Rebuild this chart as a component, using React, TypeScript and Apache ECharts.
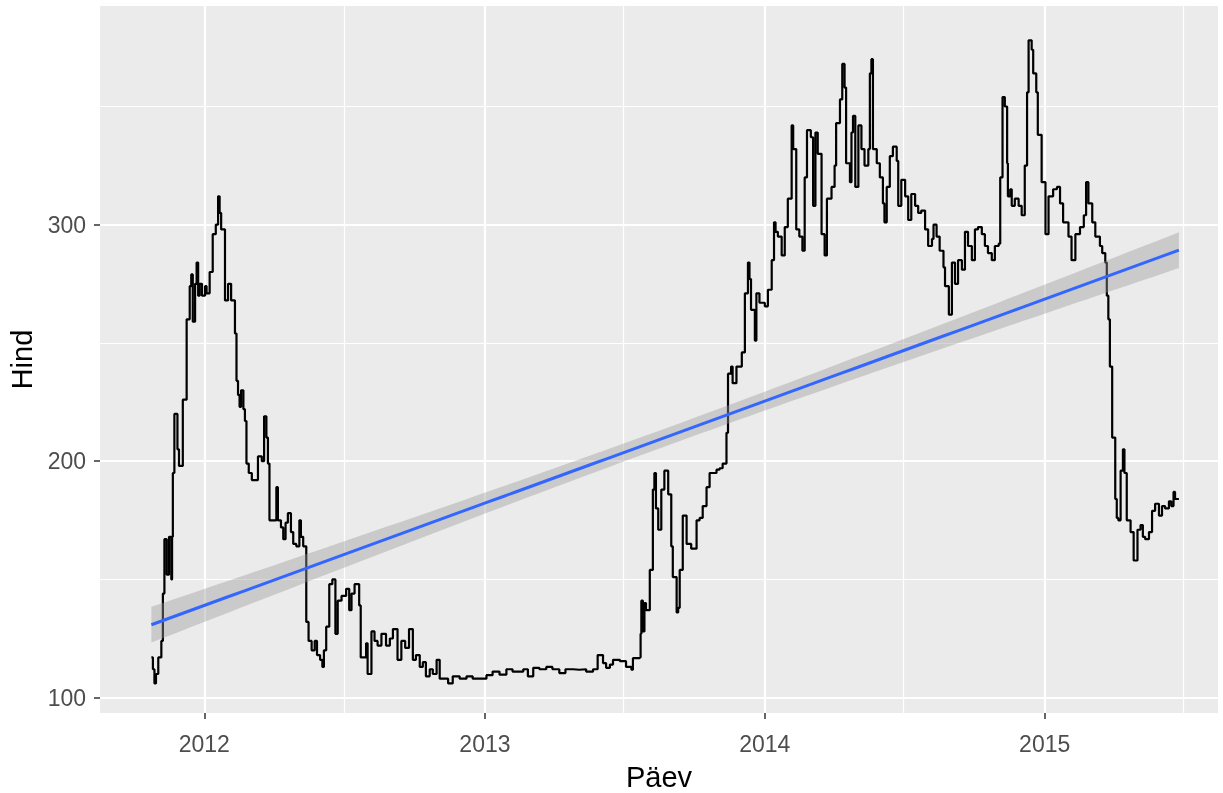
import { useEffect, useRef } from 'react';
import * as echarts from 'echarts';

const dates: string[] = [
  '2011-10-24','2011-10-26','2011-10-28','2011-10-30','2011-11-02','2011-11-06','2011-11-08','2011-11-10','2011-11-13','2011-11-16',
  '2011-11-19','2011-11-20','2011-11-21','2011-11-23','2011-11-27','2011-11-29','2011-12-04','2011-12-09','2011-12-13','2011-12-15',
  '2011-12-17','2011-12-20','2011-12-22','2011-12-24','2011-12-26','2011-12-29','2012-01-02','2012-01-04','2012-01-08','2012-01-12',
  '2012-01-16','2012-01-19','2012-01-21','2012-01-23','2012-01-28','2012-02-01','2012-02-05','2012-02-10','2012-02-12','2012-02-14',
  '2012-02-16','2012-02-18','2012-02-21','2012-02-23','2012-02-25','2012-02-28','2012-03-03','2012-03-09','2012-03-11','2012-03-16',
  '2012-03-19','2012-03-22','2012-03-24','2012-03-26','2012-03-31','2012-04-04','2012-04-06','2012-04-10','2012-04-13','2012-04-16',
  '2012-04-19','2012-04-23','2012-04-26','2012-04-30','2012-05-04','2012-05-06','2012-05-09','2012-05-13','2012-05-16','2012-05-20',
  '2012-05-24','2012-05-27','2012-05-31','2012-06-03','2012-06-05','2012-06-08','2012-06-12','2012-06-16','2012-06-20','2012-06-23',
  '2012-06-28','2012-07-04','2012-07-08','2012-07-11','2012-07-15','2012-07-21','2012-07-23','2012-07-30','2012-08-01','2012-08-06',
  '2012-08-10','2012-08-14','2012-08-19','2012-08-25','2012-08-30','2012-09-03','2012-09-09','2012-09-14','2012-09-19','2012-09-24',
  '2012-09-29','2012-10-03','2012-10-08','2012-10-12','2012-10-16','2012-10-21','2012-10-25','2012-10-30','2012-11-03','2012-11-08',
  '2012-11-14','2012-11-20','2012-11-29','2012-12-08','2012-12-16','2012-12-25','2013-01-03','2013-01-11','2013-01-20','2013-01-29',
  '2013-02-06','2013-02-15','2013-02-20','2013-02-26','2013-03-05','2013-03-13','2013-03-22','2013-03-30','2013-04-08','2013-04-16',
  '2013-04-26','2013-05-04','2013-05-13','2013-05-22','2013-05-25','2013-05-28','2013-06-04','2013-06-08','2013-06-13','2013-06-17',
  '2013-06-26','2013-07-04','2013-07-11','2013-07-13','2013-07-22','2013-07-23','2013-07-24','2013-07-26','2013-07-28','2013-07-30',
  '2013-08-04','2013-08-08','2013-08-10','2013-08-12','2013-08-15','2013-08-19','2013-08-23','2013-08-28','2013-09-01','2013-09-03',
  '2013-09-08','2013-09-10','2013-09-12','2013-09-16','2013-09-21','2013-09-27','2013-10-04','2013-10-08','2013-10-12','2013-10-17',
  '2013-10-21','2013-10-30','2013-11-03','2013-11-07','2013-11-12','2013-11-14','2013-11-18','2013-11-20','2013-11-25','2013-12-02',
  '2013-12-06','2013-12-10','2013-12-12','2013-12-14','2013-12-19','2013-12-21','2013-12-25','2014-01-01','2014-01-05','2014-01-10',
  '2014-01-13','2014-01-15','2014-01-18','2014-01-23','2014-01-27','2014-01-31','2014-02-05','2014-02-07','2014-02-11','2014-02-15',
  '2014-02-19','2014-02-22','2014-02-25','2014-03-02','2014-03-05','2014-03-08','2014-03-11','2014-03-16','2014-03-20','2014-03-23',
  '2014-03-29','2014-04-02','2014-04-04','2014-04-09','2014-04-12','2014-04-15','2014-04-17','2014-04-22','2014-04-24','2014-04-26',
  '2014-04-29','2014-05-03','2014-05-07','2014-05-11','2014-05-16','2014-05-18','2014-05-20','2014-05-22','2014-05-27','2014-05-31',
  '2014-06-04','2014-06-06','2014-06-09','2014-06-13','2014-06-17','2014-06-22','2014-06-24','2014-06-28','2014-07-03','2014-07-07',
  '2014-07-11','2014-07-16','2014-07-20','2014-07-24','2014-07-29','2014-08-02','2014-08-07','2014-08-09','2014-08-13','2014-08-17',
  '2014-08-22','2014-08-24','2014-08-29','2014-09-02','2014-09-06','2014-09-10','2014-09-15','2014-09-19','2014-09-23','2014-09-28',
  '2014-10-02','2014-10-06','2014-10-11','2014-10-15','2014-10-19','2014-10-24','2014-10-28','2014-11-02','2014-11-04','2014-11-07',
  '2014-11-10','2014-11-13','2014-11-14','2014-11-17','2014-11-19','2014-11-23','2014-11-28','2014-12-02','2014-12-06','2014-12-09',
  '2014-12-11','2014-12-15','2014-12-17','2014-12-21','2014-12-23','2014-12-28','2015-01-02','2015-01-06','2015-01-12','2015-01-17',
  '2015-01-21','2015-01-25','2015-02-01','2015-02-05','2015-02-10','2015-02-16','2015-02-21','2015-02-24','2015-02-27','2015-03-04',
  '2015-03-08','2015-03-14','2015-03-17','2015-03-21','2015-03-23','2015-03-25','2015-03-27','2015-03-30','2015-04-03','2015-04-05',
  '2015-04-07','2015-04-10','2015-04-13','2015-04-15','2015-04-18','2015-04-23','2015-04-27','2015-05-02','2015-05-06','2015-05-09',
  '2015-05-12','2015-05-17','2015-05-21','2015-05-25','2015-05-30','2015-06-03','2015-06-07','2015-06-12','2015-06-15','2015-06-18',
  '2015-06-20','2015-06-25'
];

const prices: number[] = [
  117,112,106,110,117,124,144,167,152,168,
  150,168,195,220,205,198,226,260,274,279,
  259,275,284,270,275,270,274,271,280,296,
  300,312,305,298,268,275,268,254,234,228,
  223,230,222,217,199,195,192,192,202,200,
  219,210,199,175,175,189,175,172,167,174,
  178,170,165,164,175,168,164,132,124,120,
  124,118,116,113,120,130,148,150,127,141,
  143,146,137,144,148,139,117,123,110,128,
  124,122,127,122,125,129,116,124,121,129,
  116,118,113,115,109,112,110,116,108,108,
  106,109,108,109,108,108,109.5,111,109.7,112,
  111,111,112,109,112.6,112,113,112,110.4,112,
  111.8,112,111,112,112,118,114.6,112.6,114,116,
  115.4,113,111.8,116.7,117,127,141,128,140,137,
  154,188,195,180,171,188,196,186,164,151,
  136,138,154,177,165,163,175,176,181,189,
  195,196.4,197,199,212,237,240,233,240,246,
  271,284,277,264,251,271,267,265.5,272.5,285,
  301,297,295,287,299,311,342,332,298,295,
  289,320,340,337,308,339,330,296,287,311,
  316,325,343,353,368,358,326,318,339,346,
  316,342,332,325,332,364,370,332,326,320,
  309,301,316,329,333,327,308,319,312,302,
  313,308,305,306,298,291,294,300,295,289,
  282,274,262,284,275,285,281,297,291,285,
  298,299,296,291,288,285,291,292,320,354,
  350,326,312,315,308,311,308,304,325,356,
  378,374,364,356,338,318,296,312,315,316,
  309,301,295,285,296,299,304,318,309,301,
  295,291,288,284,270,260,240,210,184,176,
  175,196,205,195,175,170,158,171,173,168,
  167,170,179,182,177,181,180,183,181,187,
  184,184
];

const yBreaks = [100, 200, 300];
const yMinorBreaks = [150, 250, 350];
const xBreaks = ['2012-01-01', '2013-01-01', '2014-01-01', '2015-01-01'];
const xMinorBreaks = ['2012-07-01', '2013-07-01', '2014-07-01', '2015-07-01'];
const xLimits = ['2011-08-18', '2015-08-15'];
const yLimits = [93.5, 392.5];
const xTitle = 'Päev';
const yTitle = 'Hind';

const DAY = 86400000;
const toTs = (d: string) => new Date(d + 'T00:00:00Z').getTime();

function fitLinear() {
  const ts = dates.map(toTs);
  const xs: number[] = [];
  const ys: number[] = [];
  let j = 0;
  for (let t = ts[0]; t <= ts[ts.length - 1]; t += DAY) {
    while (j + 1 < ts.length && ts[j + 1] <= t) j++;
    xs.push((t - ts[0]) / DAY);
    ys.push(prices[j]);
  }
  const n = xs.length;
  const mx = xs.reduce((a, b) => a + b, 0) / n;
  const my = ys.reduce((a, b) => a + b, 0) / n;
  let sxx = 0;
  let sxy = 0;
  for (let i = 0; i < n; i++) {
    sxx += (xs[i] - mx) ** 2;
    sxy += (xs[i] - mx) * (ys[i] - my);
  }
  const b = sxy / sxx;
  const a = my - b * mx;
  let sse = 0;
  for (let i = 0; i < n; i++) sse += (ys[i] - a - b * xs[i]) ** 2;
  const s = Math.sqrt(sse / (n - 2));
  const span = xs[n - 1];
  const out: { t: number; fit: number; lo: number; hi: number }[] = [];
  const N = 80;
  for (let k = 0; k < N; k++) {
    const x = (span * k) / (N - 1);
    const fit = a + b * x;
    const se = s * Math.sqrt(1 / n + (x - mx) ** 2 / sxx);
    out.push({ t: ts[0] + x * DAY, fit, lo: fit - 1.96 * se, hi: fit + 1.96 * se });
  }
  return out;
}

export default function App() {
  const ref = useRef<HTMLDivElement>(null);
  useEffect(() => {
    if (!ref.current) return;
    const chart = echarts.init(ref.current, undefined, { renderer: 'svg' });
    const fit = fitLinear();
    const font = 'Liberation Sans, Arial, sans-serif';
    const tickLabel = { color: '#4D4D4D', fontSize: 23, fontFamily: font };
    const xMin = toTs(xLimits[0]);
    const xMax = toTs(xLimits[1]);
    chart.setOption({
      animation: false,
      grid: {
        left: 100,
        right: 5,
        top: 6,
        bottom: 80,
        show: true,
        backgroundColor: '#EBEBEB',
        borderWidth: 0,
        containLabel: false,
        outerBoundsMode: 'none',
      },
      xAxis: [
        {
          type: 'value',
          min: xMin,
          max: xMax,
          axisLine: { show: false },
          axisTick: { show: true, length: 6, lineStyle: { color: '#333333', width: 1.5 }, customValues: xBreaks.map(toTs) },
          axisLabel: {
            ...tickLabel,
            margin: 19,
            customValues: xBreaks.map(toTs),
            formatter: (v: number) => String(new Date(v).getUTCFullYear()),
          },
          splitLine: { show: true, lineStyle: { color: '#FFFFFF', width: 2.2 } },
          name: xTitle,
          nameLocation: 'middle',
          nameGap: 49,
          nameTextStyle: { color: '#000000', fontSize: 29, fontFamily: font },
        },
        {
          type: 'value',
          position: 'top',
          min: xMin,
          max: xMax,
          axisLine: { show: false },
          axisTick: { show: false, customValues: xMinorBreaks.map(toTs) },
          axisLabel: { show: false, customValues: xMinorBreaks.map(toTs) },
          splitLine: { show: true, lineStyle: { color: '#FFFFFF', width: 1.2 } },
        },
      ],
      yAxis: [
        {
          type: 'value',
          min: yLimits[0],
          max: yLimits[1],
          axisLine: { show: false },
          axisTick: { show: true, length: 6, lineStyle: { color: '#333333', width: 1.5 }, customValues: yBreaks },
          axisLabel: { ...tickLabel, margin: 14, customValues: yBreaks },
          splitLine: { show: true, lineStyle: { color: '#FFFFFF', width: 2.2 } },
          name: yTitle,
          nameLocation: 'middle',
          nameRotate: 90,
          nameGap: 56,
          nameTextStyle: { color: '#000000', fontSize: 29, fontFamily: font },
        },
        {
          type: 'value',
          position: 'right',
          min: yLimits[0],
          max: yLimits[1],
          axisLine: { show: false },
          axisTick: { show: false, customValues: yMinorBreaks },
          axisLabel: { show: false, customValues: yMinorBreaks },
          splitLine: { show: true, lineStyle: { color: '#FFFFFF', width: 1.2 } },
        },
      ],
      series: [
        {
          name: 'Hind',
          type: 'line',
          data: dates.map((d, i) => [toTs(d), prices[i]]),
          step: 'end',
          showSymbol: false,
          symbol: 'none',
          lineStyle: { color: '#000000', width: 2.2 },
          z: 2,
        },
        {
          name: 'band',
          type: 'custom',
          data: [[fit[0].t, fit[0].fit]],
          silent: true,
          z: 3,
          renderItem: (_params: any, api: any) => {
            const upper = fit.map((p) => api.coord([p.t, p.hi]));
            const lower = fit.slice().reverse().map((p) => api.coord([p.t, p.lo]));
            return {
              type: 'polygon',
              shape: { points: upper.concat(lower) },
              style: { fill: 'rgba(153,153,153,0.4)' },
            };
          },
        },
        {
          name: 'fit',
          type: 'line',
          data: fit.map((p) => [p.t, p.fit]),
          symbol: 'none',
          lineStyle: { color: '#3366FF', width: 3 },
          z: 4,
        },
      ],
    });
    return () => chart.dispose();
  }, []);
  return <div ref={ref} style={{ position: 'fixed', left: 0, top: 0, width: 1223, height: 793 }} />;
}
